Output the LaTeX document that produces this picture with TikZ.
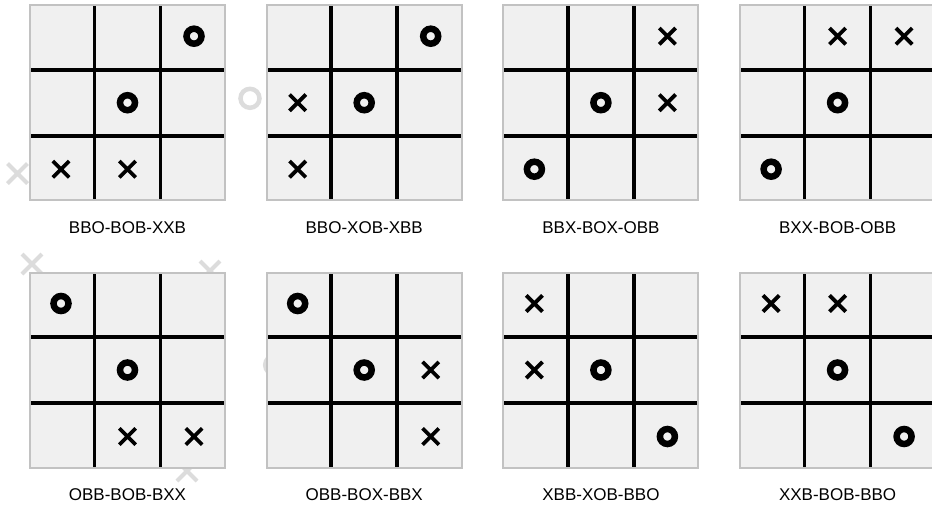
\documentclass[tikz,border=0pt]{standalone}
\usepackage{fontspec}
\setmainfont{Liberation Sans}
\usetikzlibrary{positioning,shapes.misc}
\definecolor{boardfill}{HTML}{F0F0F0}
\definecolor{boardline}{HTML}{C2C2C2}
\definecolor{ghost}{HTML}{DCDCDC}

\begin{document}
\begin{tikzpicture}[node distance=72.3pt and 41.7pt,gridline/.style={draw=black,line width=3.6pt},board/.style={draw=boardline,fill=boardfill,line width=2pt,minimum size=195pt,inner sep=0pt,outer sep=0pt,path picture={\draw[gridline] ([xshift=-33pt]path picture bounding box.north)--([xshift=-33pt]path picture bounding box.south) ([xshift=33pt]path picture bounding box.north)--([xshift=33pt]path picture bounding box.south) ([yshift=33pt]path picture bounding box.west)--([yshift=33pt]path picture bounding box.east) ([yshift=-33pt]path picture bounding box.west)--([yshift=-33pt]path picture bounding box.east);}},omark/.style={circle,draw=black,line width=6.5pt,minimum size=15pt,inner sep=0pt,outer sep=0pt},xmark/.style={cross out,draw=black,line width=3.8pt,minimum size=12.5pt,inner sep=0pt},ghostx/.style={cross out,draw=ghost,line width=4pt,minimum size=16pt,inner sep=0pt},ghosto/.style={circle,draw=ghost,line width=4.5pt,minimum size=19pt,inner sep=0pt},caption/.style={inner sep=0pt,font=\fontsize{17pt}{20pt}\selectfont}]
\clip (0pt,0pt) rectangle (932pt,-509pt);
% faint marks behind the boards
\node[ghostx] (g1) at (17.5pt,-173.5pt) {};
\node[ghostx] (g2) at (32pt,-264pt) {};
\node[ghostx] (g3) at (210pt,-271pt) {};
\node[ghostx] (g4) at (187pt,-471pt) {};
\node[ghosto] (g5) at (250pt,-98.3pt) {};
\node[ghosto] (g6) at (274.7pt,-365pt) {};
% boards
\node[board] (b1) at (127.5pt,-102.7pt) {};
\node[board,right=of b1] (b2) {};
\node[board,right=of b2] (b3) {};
\node[board,right=of b3] (b4) {};
\node[board,below=of b1] (b5) {};
\node[board,right=of b5] (b6) {};
\node[board,right=of b6] (b7) {};
\node[board,right=of b7] (b8) {};
% captions
\node[caption,below=21pt of b1] (t1) {BBO-BOB-XXB};
\node[caption,below=21pt of b2] (t2) {BBO-XOB-XBB};
\node[caption,below=21pt of b3] (t3) {BBX-BOX-OBB};
\node[caption,below=21pt of b4] (t4) {BXX-BOB-OBB};
\node[caption,below=21pt of b5] (t5) {OBB-BOB-BXX};
\node[caption,below=21pt of b6] (t6) {OBB-BOX-BBX};
\node[caption,below=21pt of b7] (t7) {XBB-XOB-BBO};
\node[caption,below=21pt of b8] (t8) {XXB-BOB-BBO};
% marks, one scope per board
\begin{scope}[shift={(b1.center)},x=66.5pt,y=66.5pt]
\node[omark] (b1s3) at (1,1) {}; \node[omark] (b1s5) at (0,0) {}; \node[xmark] (b1s7) at (-1,-1) {}; \node[xmark] (b1s8) at (0,-1) {};
\end{scope}
\begin{scope}[shift={(b2.center)},x=66.5pt,y=66.5pt]
\node[omark] (b2s3) at (1,1) {}; \node[xmark] (b2s4) at (-1,0) {}; \node[omark] (b2s5) at (0,0) {}; \node[xmark] (b2s7) at (-1,-1) {};
\end{scope}
\begin{scope}[shift={(b3.center)},x=66.5pt,y=66.5pt]
\node[xmark] (b3s3) at (1,1) {}; \node[omark] (b3s5) at (0,0) {}; \node[xmark] (b3s6) at (1,0) {}; \node[omark] (b3s7) at (-1,-1) {};
\end{scope}
\begin{scope}[shift={(b4.center)},x=66.5pt,y=66.5pt]
\node[xmark] (b4s2) at (0,1) {}; \node[xmark] (b4s3) at (1,1) {}; \node[omark] (b4s5) at (0,0) {}; \node[omark] (b4s7) at (-1,-1) {};
\end{scope}
\begin{scope}[shift={(b5.center)},x=66.5pt,y=66.5pt]
\node[omark] (b5s1) at (-1,1) {}; \node[omark] (b5s5) at (0,0) {}; \node[xmark] (b5s8) at (0,-1) {}; \node[xmark] (b5s9) at (1,-1) {};
\end{scope}
\begin{scope}[shift={(b6.center)},x=66.5pt,y=66.5pt]
\node[omark] (b6s1) at (-1,1) {}; \node[omark] (b6s5) at (0,0) {}; \node[xmark] (b6s6) at (1,0) {}; \node[xmark] (b6s9) at (1,-1) {};
\end{scope}
\begin{scope}[shift={(b7.center)},x=66.5pt,y=66.5pt]
\node[xmark] (b7s1) at (-1,1) {}; \node[xmark] (b7s4) at (-1,0) {}; \node[omark] (b7s5) at (0,0) {}; \node[omark] (b7s9) at (1,-1) {};
\end{scope}
\begin{scope}[shift={(b8.center)},x=66.5pt,y=66.5pt]
\node[xmark] (b8s1) at (-1,1) {}; \node[xmark] (b8s2) at (0,1) {}; \node[omark] (b8s5) at (0,0) {}; \node[omark] (b8s9) at (1,-1) {};
\end{scope}
\end{tikzpicture}
\end{document}
